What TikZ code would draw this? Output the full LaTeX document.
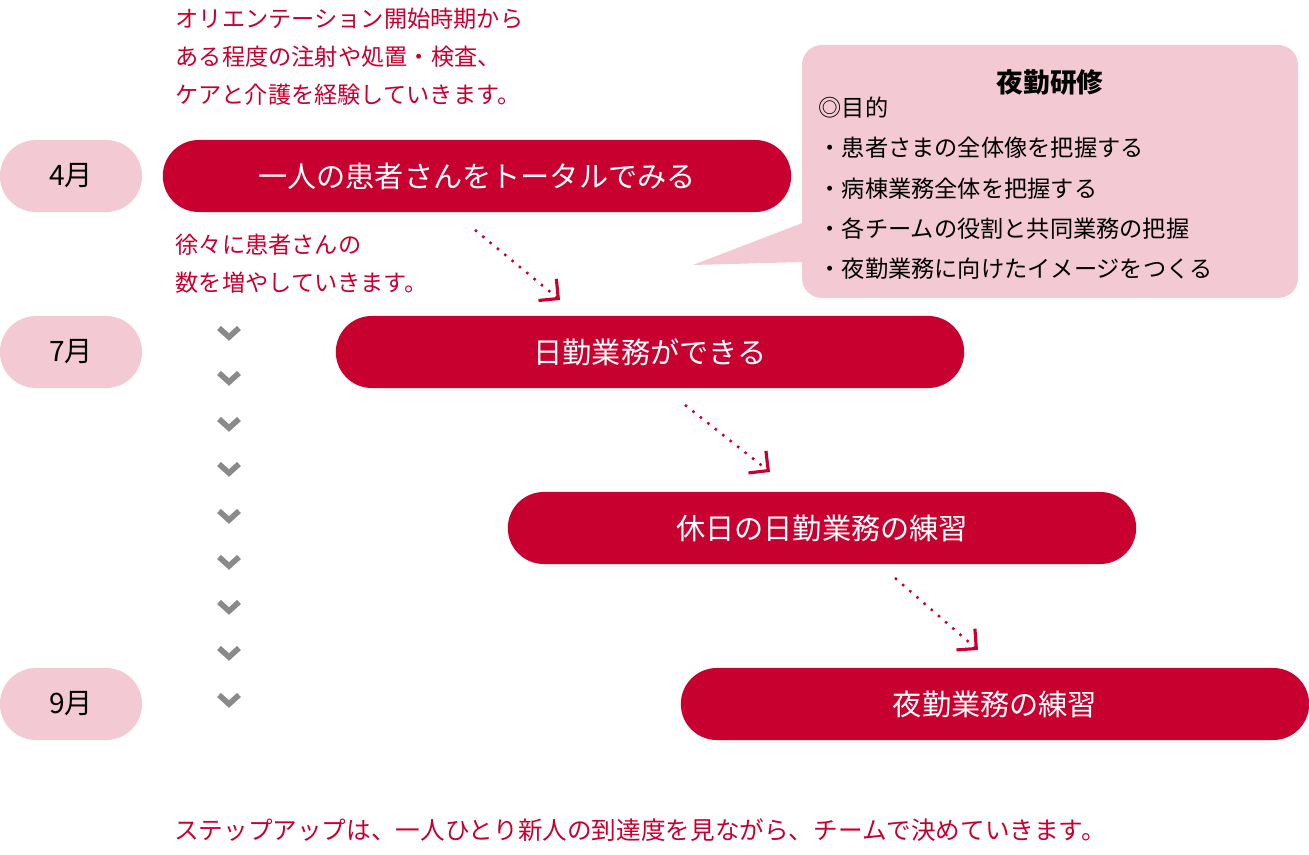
\documentclass[tikz,border=0pt]{standalone}
\usepackage{fontspec}
\setmainfont{Noto Sans CJK JP}
\usetikzlibrary{arrows.meta}
\usetikzlibrary{positioning}
\definecolor{deepred}{HTML}{C8002F}
\definecolor{softpink}{HTML}{F3C9D3}
\definecolor{chevgray}{HTML}{8A8A8A}
\tikzstyle{month} = [
    rectangle,
    rounded corners=0.36cm,
    fill=softpink,
    minimum width=1.42cm,
    minimum height=0.72cm,
    font=\fontsize{8}{10}\selectfont
]
\tikzstyle{phase} = [
    rectangle,
    rounded corners=0.36cm,
    fill=deepred,
    text=white,
    minimum width=6.28cm,
    minimum height=0.72cm,
    font=\fontsize{8.3}{10}\selectfont
]
\tikzstyle{note}  = [
    anchor=west,
    text=deepred,
    align=left,
    inner sep=0pt,
    font=\fontsize{6.6}{10.8}\selectfont
]
\tikzstyle{flow}  = [
    draw=deepred,
    dotted,
    line width=0.7pt,
    -{Straight Barb[length=4pt,width=8pt,line width=0.9pt]}
]
\tikzstyle{chev}  = [
    draw=chevgray,
    line width=1.6pt
]
\begin{document}
\begin{tikzpicture}[x=0.01cm,y=-0.01cm]
\useasboundingbox (0,0) rectangle (1309,855);

\node[month] (m4) at (71,176) {4月};
\node[month] (m7) at (71,352) {7月};
\node[month] (m9) at (71,704) {9月};

\node[phase] (p1) at (477,176) {一人の患者さんをトータルでみる};
\node[phase] (p2) at (650,352) {日勤業務ができる};
\node[phase] (p3) at (822,528) {休日の日勤業務の練習};
\node[phase] (p4) at (995,704) {夜勤業務の練習};

\node[note] (top) at (175,57)
{オリエンテーション開始時期から\\ある程度の注射や処置・検査、\\ケアと介護を経験していきます。};
\node[note] (mid) at (175,264)
{徐々に患者さんの\\数を増やしていきます。};

% callout
\fill[softpink, rounded corners=0.2cm] (802,45) rectangle (1298,298);
\fill[softpink] (805,222) -- (693,265) -- (805,262) -- cycle;
\node[font=\fontsize{7.6}{10}\selectfont\bfseries] (title) at (1050,82) {夜勤研修};
\node[note, text=black, font=\fontsize{6.6}{10}\selectfont, align=left] (goal) at (818,190)
{\begin{tabular}{@{}l@{}}
◎目的\\[1.5pt]
・患者さまの全体像を把握する\\[1.5pt]
・病棟業務全体を把握する\\[1.5pt]
・各チームの役割と共同業務の把握\\[1.5pt]
・夜勤業務に向けたイメージをつくる
\end{tabular}};

% chevrons
\foreach \y in {333,378,424,469,516,562,607,653,700}
    \draw[chev] (219,\y-5) -- (229,\y+4) -- (239,\y-5);

% dotted arrows
\coordinate (a1) at (475,230); \coordinate (b1) at (560,300);
\coordinate (a2) at (685,405); \coordinate (b2) at (770,472);
\coordinate (a3) at (895,578); \coordinate (b3) at (978,650);
\draw[flow] (a1) -- (b1);
\draw[flow] (a2) -- (b2);
\draw[flow] (a3) -- (b3);

\node[text=deepred, font=\fontsize{7}{10}\selectfont] (foot) at (640,830)
{ステップアップは、一人ひとり新人の到達度を見ながら、チームで決めていきます。};
\end{tikzpicture}
\end{document}
